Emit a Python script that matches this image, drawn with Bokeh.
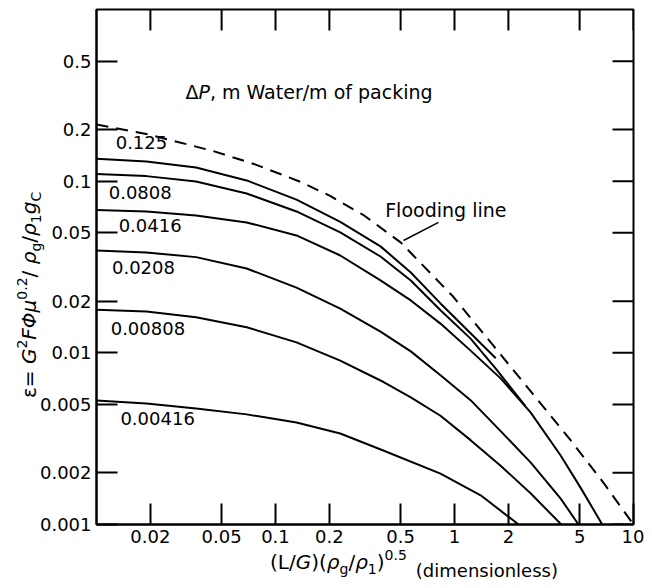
import math
from bokeh.plotting import figure
from bokeh.layouts import row, column
from bokeh.models import FixedTicker, Label, ColumnDataSource, Div
from bokeh.core.properties import value
from bokeh.embed import file_html
from bokeh.resources import INLINE

FONT = "DejaVu Sans"

# ---------------- data ----------------
x_ticks = [0.02, 0.05, 0.1, 0.2, 0.5, 1, 2, 5, 10]
x_tick_labels = ["0.02", "0.05", "0.1", "0.2", "0.5", "1", "2", "5", "10"]
y_ticks = [0.001, 0.002, 0.005, 0.01, 0.02, 0.05, 0.1, 0.2, 0.5]
y_tick_labels = ["0.001", "0.002", "0.005", "0.01", "0.02", "0.05", "0.1", "0.2", "0.5"]
x_min, x_max = 0.01, 10
y_min, y_max = 0.001, 1

flood_x = [0.01, 0.020, 0.045, 0.075, 0.138, 0.203, 0.31, 0.50, 0.985, 1.65, 2.76, 4.45, 6.8, 10]
flood_y = [0.214, 0.186, 0.1496, 0.1264, 0.0991, 0.0818, 0.0635, 0.0440, 0.0212, 0.0110, 0.0057, 0.0031, 0.00175, 0.001]

c0125_x = [0.01, 0.019, 0.036, 0.069, 0.131, 0.23, 0.386, 0.57, 0.835, 1.23, 1.70]
c0125_y = [0.135, 0.130, 0.120, 0.101, 0.078, 0.058, 0.0417, 0.0294, 0.0194, 0.0130, 0.0093]

c0808_x = [0.01, 0.019, 0.036, 0.069, 0.131, 0.23, 0.386, 0.57, 0.835, 1.23, 1.70, 2.49]
c0808_y = [0.110, 0.107, 0.0996, 0.0848, 0.0666, 0.0503, 0.0364, 0.0264, 0.0177, 0.0121, 0.0081, 0.0049]

c0416_x = [0.01, 0.019, 0.036, 0.069, 0.131, 0.23, 0.386, 0.57, 0.835, 1.23, 1.81, 2.66, 3.91, 5.06, 6.69]
c0416_y = [0.068, 0.0666, 0.0631, 0.0575, 0.0483, 0.0369, 0.0264, 0.0202, 0.0148, 0.0103, 0.0071, 0.0045, 0.00253, 0.00164, 0.001]

c0208_x = [0.01, 0.019, 0.036, 0.069, 0.131, 0.23, 0.386, 0.57, 0.835, 1.23, 1.81, 2.66, 3.91, 4.93]
c0208_y = [0.0395, 0.0384, 0.0361, 0.0310, 0.0240, 0.0181, 0.0133, 0.0102, 0.0074, 0.0053, 0.0035, 0.0023, 0.00142, 0.001]

c00808_x = [0.01, 0.019, 0.036, 0.069, 0.131, 0.23, 0.386, 0.57, 0.835, 1.23, 1.81, 2.66, 3.95]
c00808_y = [0.0178, 0.0174, 0.0161, 0.0141, 0.0115, 0.0090, 0.0069, 0.0055, 0.0043, 0.0031, 0.0022, 0.00152, 0.001]

c00416_x = [0.01, 0.019, 0.036, 0.069, 0.131, 0.23, 0.40, 0.835, 1.40, 2.28]
c00416_y = [0.00528, 0.00507, 0.00474, 0.00438, 0.00393, 0.00339, 0.0027, 0.00198, 0.00148, 0.001]

curve_label_text = ["0.125", "0.0808", "0.0416", "0.0208", "0.00808", "0.00416"]
curve_label_x = [0.0128, 0.0117, 0.0133, 0.0122, 0.0120, 0.0136]
curve_label_y = [0.168, 0.0863, 0.0552, 0.0316, 0.0138, 0.00413]

dp_label_x, dp_label_y = 0.0314, 0.330
flood_label_x, flood_label_y = 0.41, 0.0675
flood_leader_x = [0.814, 0.519]
flood_leader_y = [0.0575, 0.0451]

# ---------------- figure ----------------
YDIV_W = 36
p = figure(width=644 - YDIV_W, height=552, x_axis_type="log", y_axis_type="log",
           x_range=(x_min, x_max), y_range=(y_min, y_max),
           output_backend="svg", toolbar_location=None,
           min_border_left=96 - YDIV_W, min_border_right=11, min_border_top=9, min_border_bottom=28,
           margin=0)
p.grid.visible = False
p.outline_line_color = "black"
p.outline_line_width = 2
p.background_fill_color = "white"
p.border_fill_color = None


def style_axis(ax, ticks, labels):
    ax.ticker = FixedTicker(ticks=ticks, minor_ticks=[])
    ax.major_tick_in = 21
    ax.major_tick_out = 0
    ax.minor_tick_in = 0
    ax.minor_tick_out = 0
    ax.major_tick_line_width = 2
    ax.major_tick_line_color = "black"
    ax.axis_line_width = 2
    ax.axis_line_color = "black"
    ax.major_label_overrides = {t: l for t, l in zip(ticks, labels)}
    ax.major_label_text_font = FONT
    ax.major_label_text_font_size = "18px"
    ax.major_label_text_color = "black"
    ax.major_label_standoff = 5


style_axis(p.xaxis[0], x_ticks, x_tick_labels)
style_axis(p.yaxis[0], y_ticks, y_tick_labels)

# inward ticks on the top and right edges (mirroring the bottom/left ticks)
p.ray(x=x_ticks, y=[y_max] * len(x_ticks), length=21, length_units="screen",
      angle=-math.pi / 2, line_color="black", line_width=2)
p.ray(x=[x_max] * len(y_ticks), y=y_ticks, length=21, length_units="screen",
      angle=math.pi, line_color="black", line_width=2)

# ---------------- curves ----------------
LW = 2
p.line(flood_x, flood_y, line_color="black", line_width=LW, line_dash="12 8")
for xs, ys in [(c0125_x, c0125_y), (c0808_x, c0808_y), (c0416_x, c0416_y),
               (c0208_x, c0208_y), (c00808_x, c00808_y), (c00416_x, c00416_y)]:
    p.line(xs, ys, line_color="black", line_width=LW)

p.line(flood_leader_x, flood_leader_y, line_color="black", line_width=1.5)

src = ColumnDataSource(dict(x=curve_label_x, y=curve_label_y, t=curve_label_text))
p.text(x="x", y="y", text="t", source=src, text_font=value(FONT), text_font_size="18px",
       text_color="black", text_align="left", text_baseline="middle")

# ---------------- annotation texts inside the frame ----------------
W = {'Δ': .684, 'P': .603}
p.add_layout(Label(x=dp_label_x, y=dp_label_y, text="Δ", text_font=FONT, text_font_size="19px",
                   text_color="black", text_align="left", text_baseline="alphabetic"))
p.add_layout(Label(x=dp_label_x, y=dp_label_y, x_offset=W['Δ'] * 19, text="P", text_font=FONT,
                   text_font_size="19px", text_font_style="italic", text_color="black",
                   text_align="left", text_baseline="alphabetic"))
p.add_layout(Label(x=dp_label_x, y=dp_label_y, x_offset=(W['Δ'] + W['P']) * 19,
                   text=", m Water/m of packing", text_font=FONT, text_font_size="19px",
                   text_color="black", text_align="left", text_baseline="alphabetic"))
p.add_layout(Label(x=flood_label_x, y=flood_label_y, text="Flooding line", text_font=FONT,
                   text_font_size="19px", text_color="black", text_align="left",
                   text_baseline="middle"))

# ---------------- axis titles (HTML, with real sub/superscripts) ----------------
SUB = "font-size:14px;position:relative;top:5px;line-height:1;"
SUP = "font-size:14px;position:relative;top:-9px;line-height:1;"
x_title_html = (
    f"<div style=\"position:relative;width:{644 - YDIV_W}px;height:34px;font-family:'DejaVu Sans';"
    "color:#000;white-space:nowrap;\">"
    f"<span style=\"position:absolute;left:{270 - YDIV_W}px;top:-2px;font-size:20px;line-height:24px;\">"
    f"(L/<i>G</i>)(<i>ρ</i><span style='{SUB}'>g</span>/<i>ρ</i><span style='{SUB}'>1</span>)"
    f"<span style='{SUP}'>0.5</span>"
    "<span style='font-size:18px;position:relative;top:8px;margin-left:9px;line-height:1;'>"
    "(dimensionless)</span></span></div>"
)
y_title_html = (
    f"<div style=\"position:relative;width:{YDIV_W}px;height:586px;font-family:'DejaVu Sans';"
    "color:#000;white-space:nowrap;overflow:visible;\">"
    "<span style=\"position:absolute;left:17px;top:398px;transform:rotate(-90deg);"
    "transform-origin:0 0;font-size:20px;line-height:24px;\">"
    f"ε= <i>G</i><span style='{SUP}'>2</span><i>FΦμ</i><span style='{SUP}'>0.2</span>/ "
    f"<i>ρ</i><span style='{SUB}'>g</span>/<i>ρ</i><span style='{SUB}'>1</span>"
    f"<i>g</i><span style='{SUB}'>C</span></span></div>"
)

x_title = Div(text=x_title_html, width=644 - YDIV_W, height=34, margin=0)
y_title = Div(text=y_title_html, width=YDIV_W, height=586, margin=0,
              styles={"overflow": "visible", "z-index": "2"})

layout = row(y_title, column(p, x_title, spacing=0, margin=0), spacing=0, margin=0)

open("out.html", "w").write(file_html(layout, INLINE))
